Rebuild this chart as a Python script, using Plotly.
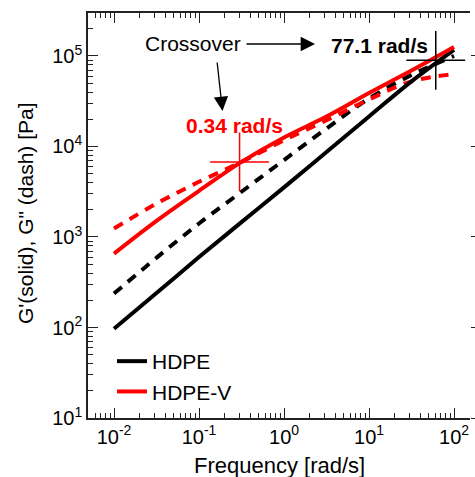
import plotly.graph_objects as go

# ---- data ----
freq = [0.01, 0.0316, 0.1, 0.316, 1, 3.16, 10, 31.6, 100]
hdpe_gp = [97, 240, 600, 1460, 3530, 8700, 21500, 52500, 117000]
hdpe_gpp = [237, 589, 1410, 3160, 7080, 15800, 33900, 61700, 100000]
hdpev_gp = [656, 1510, 3240, 6760, 12600, 21400, 38900, 69200, 126000]
hdpev_gpp = [1240, 2340, 4070, 6760, 11700, 19500, 33100, 52500, 63100]
cross_freq = [0.30, 61]
cross_mod = [6760, 89600]
cross_colors = ["red", "black"]
x_ticks = [0.01, 0.1, 1, 10, 100]
x_ticktext = ["10<sup>-2</sup>", "10<sup>-1</sup>", "10<sup>0</sup>", "10<sup>1</sup>", "10<sup>2</sup>"]
y_ticks = [10, 100, 1000, 10000, 100000]
y_ticktext = ["10<sup>1</sup>", "10<sup>2</sup>", "10<sup>3</sup>", "10<sup>4</sup>", "10<sup>5</sup>"]

FONT = "Liberation Sans, Arial, sans-serif"
LW = 4
DASH = "10px,8px"

fig = go.Figure()
fig.add_trace(go.Scatter(x=freq, y=hdpe_gpp, mode="lines", line=dict(color="black", width=LW, dash=DASH, shape="spline"), showlegend=False))
fig.add_trace(go.Scatter(x=freq, y=hdpev_gpp, mode="lines", line=dict(color="red", width=LW, dash=DASH, shape="spline"), showlegend=False))
fig.add_trace(go.Scatter(x=freq, y=hdpe_gp, mode="lines", name="HDPE", line=dict(color="black", width=LW, shape="spline")))
fig.add_trace(go.Scatter(x=freq, y=hdpev_gp, mode="lines", name="HDPE-V", line=dict(color="red", width=LW, shape="spline")))
for fx, fy, c in zip(cross_freq, cross_mod, cross_colors):
    fig.add_trace(go.Scatter(x=[fx], y=[fy], mode="markers", showlegend=False,
                             marker=dict(symbol="cross-thin", size=42, line=dict(color=c, width=1.5))))

# pixel -> paper helpers (layout only)
X0, X1, Y0, Y1 = 88, 470, 13, 418
def px(x):
    return (x - X0) / (X1 - X0)
def py(y):
    return (Y1 - y) / (Y1 - Y0)

minor_x = [m * 10 ** e for e in range(-3, 3) for m in range(2, 10)]
minor_y = [m * 10 ** e for e in range(1, 6) for m in range(2, 10)]

fig.update_layout(
    width=475, height=477,
    margin=dict(l=X0, r=475 - X1, t=Y0, b=477 - Y1, autoexpand=False),
    paper_bgcolor="white", plot_bgcolor="white",
    font=dict(family=FONT, size=20, color="black"),
    showlegend=True,
    legend=dict(x=px(112), y=py(341), xanchor="left", yanchor="top",
                font=dict(size=21), bgcolor="rgba(0,0,0,0)", tracegroupgap=0),
    xaxis=dict(type="log", range=[-2.306, 2.188], showgrid=False, zeroline=False, automargin=False,
               showline=True, linecolor="#222", linewidth=1.5, mirror="ticks",
               ticks="inside", ticklen=10, tickwidth=1.2, tickcolor="#222",
               tickmode="array", tickvals=x_ticks, ticktext=x_ticktext,
               tickfont=dict(size=20),
               minor=dict(ticks="inside", ticklen=5, tickwidth=1, tickcolor="#222",
                          tickmode="array", tickvals=minor_x, showgrid=False),
               title=dict(text="")),
    yaxis=dict(type="log", range=[1.0, 5.475], showgrid=False, zeroline=False, automargin=False,
               showline=True, linecolor="#222", linewidth=1.5, mirror=False,
               ticks="inside", ticklen=10, tickwidth=1.2, tickcolor="#222",
               tickmode="array", tickvals=y_ticks, ticktext=y_ticktext,
               tickfont=dict(size=20),
               minor=dict(ticks="inside", ticklen=5, tickwidth=1, tickcolor="#222",
                          tickmode="array", tickvals=minor_y, showgrid=False),
               title=dict(text="")),
    yaxis2=dict(type="log", range=[1.0, 5.475], overlaying="y", side="right", automargin=False,
                showgrid=False, zeroline=False, showline=False,
                ticks="outside", ticklen=5, tickwidth=1.2, tickcolor="#222",
                tickmode="array", tickvals=y_ticks, showticklabels=False),
    annotations=[
        dict(text="Frequency [rad/s]", x=px(279), y=py(465), xref="paper", yref="paper",
             showarrow=False, font=dict(size=22), xanchor="center", yanchor="middle"),
        dict(text="G'(solid), G\" (dash) [Pa]", x=px(25), y=py(213), xref="paper", yref="paper",
             textangle=-90, showarrow=False, font=dict(size=21), xanchor="center", yanchor="middle"),
        dict(text="Crossover", x=px(192.5), y=py(43), xref="paper", yref="paper",
             showarrow=False, font=dict(size=21, color="black"), xanchor="center", yanchor="middle"),
        dict(text="", x=px(315), y=py(44), xref="paper", yref="paper", showarrow=True,
             ax=-70, ay=0, arrowhead=2, arrowsize=2.2, arrowwidth=1.3, arrowcolor="black"),
        dict(text="<b>77.1 rad/s</b>", x=px(379), y=py(45), xref="paper", yref="paper",
             showarrow=False, font=dict(size=21, color="black"), xanchor="center", yanchor="middle"),
        dict(text="", x=px(222.5), y=py(111), xref="paper", yref="paper", showarrow=True,
             ax=-5.5, ay=-50, arrowhead=2, arrowsize=2.2, arrowwidth=1.3, arrowcolor="black"),
        dict(text="<b>0.34 rad/s</b>", x=px(234), y=py(125), xref="paper", yref="paper",
             showarrow=False, font=dict(size=21, color="red"), xanchor="center", yanchor="middle"),
    ],
)
# dummy trace so the right axis is drawn
fig.add_trace(go.Scatter(x=[1], y=[10], yaxis="y2", mode="markers", marker=dict(opacity=0), showlegend=False, hoverinfo="skip"))

fig.write_html("out.html", config={"displayModeBar": False},
               post_script="document.body.style.margin='0';")
